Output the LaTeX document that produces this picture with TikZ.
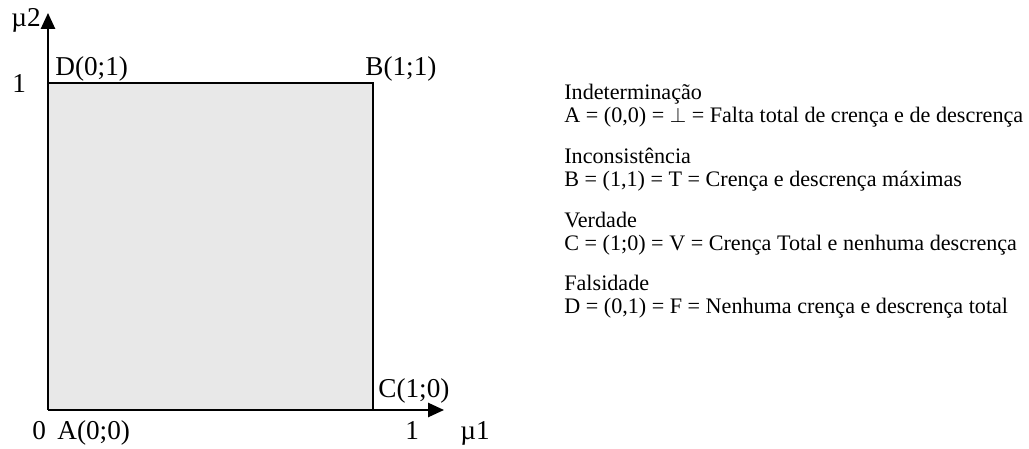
\documentclass[tikz,border=0pt]{standalone}
\usepackage{fontspec}
\setmainfont{Liberation Serif}
\usepackage{tikz}
\usetikzlibrary{arrows.meta}

\begin{document}
\begin{tikzpicture}[x=0.02cm,y=-0.02cm,
  lbl/.style={inner sep=0pt,anchor=base west,font=\fontsize{15.5}{18}\selectfont},
  legend/.style={inner sep=0pt,anchor=base west,align=left,
    font=\fontsize{12.6}{13.2}\selectfont},
  axis/.style={line width=1.1pt,-{Triangle[length=9pt,width=8pt]}},
  >=stealth
]
\useasboundingbox (0,0) rectangle (1029,449);
\coordinate (origin) at (48,410);
\coordinate (xend) at (444,410);
\coordinate (yend) at (48,13);
\coordinate (pA) at (48,410);
\coordinate (pB) at (373,83);
\coordinate (pC) at (373,410);
\coordinate (pD) at (48,83);
\fill[gray!18] (pA) rectangle (pB);
\draw[line width=0.9pt] (pD) -- (pB) -- (pC);
\draw[axis] (origin) -- (xend);
\draw[axis] (origin) -- (yend);
\node[lbl] (mu2) at (11,27) {µ2};
\node[lbl] (one y) at (12,93) {1};
\node[lbl] (Dlbl) at (55,76) {D(0;1)};
\node[lbl] (Blbl) at (365,76) {B(1;1)};
\node[lbl] (Clbl) at (378,398) {C(1;0)};
\node[lbl] (zero) at (32,440) {0};
\node[lbl] (Albl) at (57,440) {A(0;0)};
\node[lbl] (one x) at (405,440) {1};
\node[lbl] (mu1) at (460,440) {µ1};
\node[legend] (indet) at (564,123)
  {Indeterminação\\A = (0,0) = $\perp$ = Falta total de crença e de descrença};
\node[legend] (incons) at (564,187)
  {Inconsistência\\B = (1,1) = T = Crença e descrença máximas};
\node[legend] (verd) at (564,251)
  {Verdade\\C = (1;0) = V = Crença Total e nenhuma descrença};
\node[legend] (fals) at (564,314)
  {Falsidade\\D = (0,1) = F = Nenhuma crença e descrença total};
\end{tikzpicture}
\end{document}
